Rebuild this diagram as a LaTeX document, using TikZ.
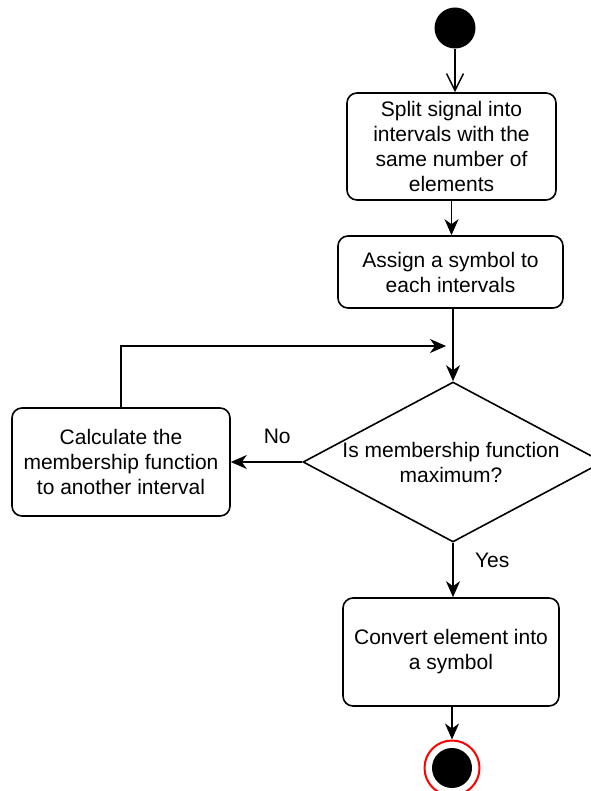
\documentclass[tikz,border=0pt]{standalone}
\usepackage{fontspec}
\setmainfont{Liberation Sans}
\usetikzlibrary{arrows.meta, shapes.geometric}

\begin{document}
\begin{tikzpicture}[x=1pt, y=-1pt, line width=1.6pt,
  box/.style={draw, rounded corners=10pt, align=center, inner sep=0pt,
    font=\fontsize{21}{25}\selectfont},
  decision/.style={draw, diamond, inner sep=0pt, minimum width=300pt,
    minimum height=160pt},
  lbl/.style={font=\fontsize{21}{25}\selectfont},
  flow/.style={-{Stealth[length=16pt,width=14pt,inset=5pt]}}]

\useasboundingbox (0,0) rectangle (590,791);

% Start
\node[circle, fill=black, minimum size=41pt, inner sep=0pt] (start) at (455,28) {};

% Steps
\node[box, minimum width=209pt, minimum height=107pt] (split) at (451.5,146.5)
  {Split signal into\\intervals with the\\same number of\\elements};
\node[box, minimum width=225pt, minimum height=72pt] (assign) at (450.5,272)
  {Assign a symbol to\\each intervals};

% Decision
\node[decision] (dec) at (453,462) {};
\node[lbl, align=center] (decText) at (451,462) {Is membership function\\maximum?};

\node[box, minimum width=218pt, minimum height=108pt] (calc) at (121,462)
  {Calculate the\\membership function\\to another interval};
\node[box, minimum width=216pt, minimum height=108pt] (convert) at (451,652)
  {Convert element into\\a symbol};

% End
\node[circle, draw=red, line width=2pt, fill=white, minimum size=55pt, inner sep=0pt] (stop) at (452,768) {};
\node[circle, fill=black, minimum size=40pt, inner sep=0pt] (stopDot) at (stop) {};

% Connectors
\draw[-{Straight Barb[length=17pt,width=17pt]}, line width=1.5pt] (start) -- (start |- split.north);
\draw[flow] (split) -- (split |- assign.north);
\draw[flow] (dec.north |- assign.south) -- (dec.north);
\draw[flow] (dec.west) -- (calc.east) node[lbl, pos=0.35, above=14pt] {No};
\coordinate (merge) at (446,346);
\draw[flow] (calc.north) |- (merge);
\draw[flow] (dec.south) -- (dec.south |- convert.north) node[lbl, midway, right=18pt, yshift=10pt] {Yes};
\draw[flow] (stop.north |- convert.south) -- (stop.north);

\end{tikzpicture}
\end{document}
